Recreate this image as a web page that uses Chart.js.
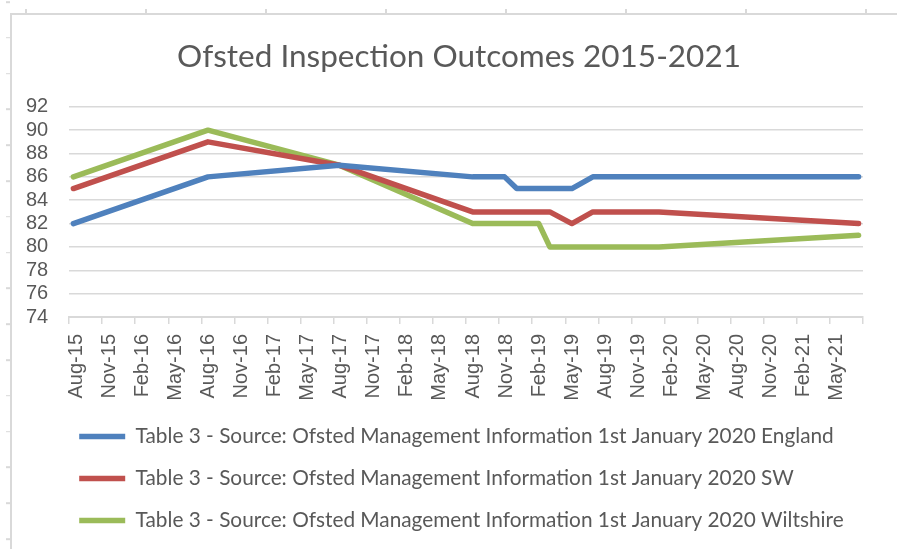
<!DOCTYPE html>
<html lang="en">
<head>
<meta charset="utf-8">
<title>Ofsted Inspection Outcomes 2015-2021</title>
<script src="https://cdn.jsdelivr.net/npm/chart.js@4.4.1/dist/chart.umd.min.js"></script>
<style>
  html, body { margin: 0; padding: 0; background: #ffffff; overflow: hidden; }
  body { width: 897px; height: 549px; position: relative; }
  .marco {
    position: absolute; left: 10px; top: 13px; right: 0; bottom: 0;
    border-left: 2px solid #d9d9d9; border-top: 2px solid #d9d9d9;
  }
  .marcas-top {
    position: absolute; left: 0; top: 9px; width: 897px; height: 4px;
    background: repeating-linear-gradient(to right, transparent 0 25px, #d9d9d9 25px 27px, transparent 27px 120px);
  }
  .marcas-left {
    position: absolute; left: 6px; top: 0; width: 4px; height: 549px;
    background: repeating-linear-gradient(to bottom, #d9d9d9 0 1.6px, transparent 1.6px 35.8px);
    background-position: 0 1.2px;
  }
  #graficaOfsted { position: absolute; left: 11px; top: 14px; }
</style>
</head>
<body>
<div class="marcas-top"></div>
<div class="marcas-left"></div>
<div class="marco"></div>
<script>
/* DATOS */
// months counted from the Aug-15 tick
const pointMonths = [0.4, 12.6, 24.5, 36.6, 39.5, 40.6, 42.6, 43.6, 45.6, 47.5, 53.5, 71.6];
const englandValues = [82, 86, 87, 86, 86, 85, 85, 85, 85, 86, 86, 86];
const swValues = [85, 89, 87, 83, 83, 83, 83, 83, 82, 83, 83, 82];
const wiltshireValues = [86, 90, 87, 82, 82, 82, 82, 80, 80, 80, 80, 81];

const seriesNames = [
  'Table 3 - Source: Ofsted Management Information 1st January 2020 England',
  'Table 3 - Source: Ofsted Management Information 1st January 2020 SW',
  'Table 3 - Source: Ofsted Management Information 1st January 2020 Wiltshire'
];

const tickLabels = [
  'Aug-15', 'Nov-15', 'Feb-16', 'May-16', 'Aug-16', 'Nov-16', 'Feb-17', 'May-17',
  'Aug-17', 'Nov-17', 'Feb-18', 'May-18', 'Aug-18', 'Nov-18', 'Feb-19', 'May-19',
  'Aug-19', 'Nov-19', 'Feb-20', 'May-20', 'Aug-20', 'Nov-20', 'Feb-21', 'May-21', ''
];

const chartTitle = 'Ofsted Inspection Outcomes 2015-2021';

let colores = ['#4f81bd', '#c0504d', '#9bbb59'];

function aPuntos(valores) {
  return valores.map((v, i) => ({ x: pointMonths[i], y: v }));
}

/* CANVAS */
let canvasOfsted = document.createElement('canvas');
canvasOfsted.id = 'graficaOfsted';
canvasOfsted.width = 886;
canvasOfsted.height = 535;
document.body.appendChild(canvasOfsted);

const grafica = canvasOfsted.getContext('2d');

let series = [englandValues, swValues, wiltshireValues];

// title is centred on the whole chart box, not on the padded area
const moverTitulo = {
  id: 'moverTitulo',
  afterLayout(chart) {
    chart.titleBlock.left -= 11;
    chart.titleBlock.right -= 11;
  }
};

/* GRAFICA */
new Chart(grafica, {
  type: 'line',
  data: {
    datasets: series.map((valores, i) => ({
      label: seriesNames[i],
      data: aPuntos(valores),
      borderColor: colores[i],
      backgroundColor: colores[i],
      borderWidth: 5.5,
      borderCapStyle: 'round',
      borderJoinStyle: 'round',
      pointRadius: 0,
      tension: 0,
      fill: false
    }))
  },
  plugins: [moverTitulo],
  options: {
    responsive: false,
    animation: false,
    layout: {
      padding: { left: 47, right: 15, top: 0, bottom: 8 }
    },
    plugins: {
      title: {
        display: true,
        text: chartTitle,
        color: '#595959',
        font: { family: 'Lato', size: 31.5, weight: '400', lineHeight: 1.2 },
        padding: { top: 24, bottom: 31 }
      },
      legend: {
        position: 'bottom',
        align: 'start',
        labels: {
          usePointStyle: true,
          pointStyle: 'line',
          pointStyleWidth: 46,
          padding: 21.2,
          color: '#595959',
          font: { family: 'Lato', size: 20.8 }
        }
      },
      tooltip: { enabled: false }
    },
    scales: {
      x: {
        type: 'linear',
        min: 0,
        max: 72,
        afterFit: function (scale) {
          scale.height = 88;
        },
        afterBuildTicks: function (scale) {
          scale.ticks = tickLabels.map((t, i) => ({ value: i * 3 }));
        },
        ticks: {
          autoSkip: false,
          maxRotation: 90,
          minRotation: 90,
          padding: 10,
          labelOffset: 7,
          color: '#595959',
          font: { family: 'Liberation Sans', size: 20 },
          callback: function (value) {
            return tickLabels[Math.round(value / 3)];
          }
        },
        grid: {
          drawOnChartArea: false,
          drawTicks: true,
          tickLength: 7,
          color: '#d9d9d9',
          lineWidth: 1.5
        },
        border: { display: true, color: '#d9d9d9', width: 2 }
      },
      y: {
        min: 74,
        max: 92,
        afterFit: function (scale) {
          scale.width = 11;
        },
        ticks: {
          stepSize: 2,
          autoSkip: false,
          mirror: true,
          crossAlign: 'near',
          padding: -43,
          color: '#595959',
          font: { family: 'Liberation Sans', size: 20 }
        },
        grid: {
          drawTicks: false,
          color: '#d9d9d9',
          lineWidth: 1.5
        },
        border: { display: false }
      }
    }
  }
});
</script>
</body>
</html>
